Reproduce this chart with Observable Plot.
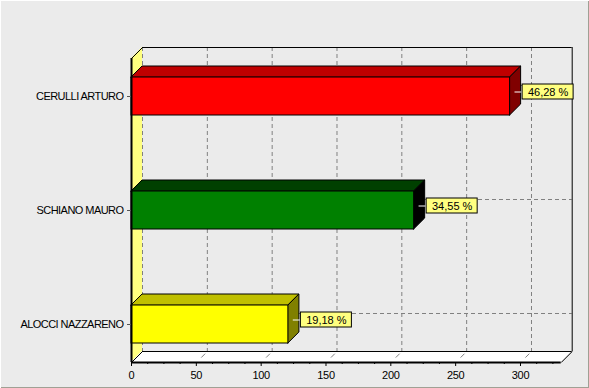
<!DOCTYPE html>
<html><head><meta charset="utf-8">
<script src="https://cdn.jsdelivr.net/npm/d3@7"></script>
<script src="https://cdn.jsdelivr.net/npm/@observablehq/plot@0.6"></script>
<style>
body{margin:0;background:#ebebeb;}
#chart svg{display:block;}
#chart g[aria-label="y-axis tick label"] text{letter-spacing:-0.55px;}
#chart g[aria-label="x-axis tick label"] text{letter-spacing:-0.3px;}
</style></head><body><div id="chart"></div>
<script>
// ---- data ----
const names = ["CERULLI ARTURO", "SCHIANO MAURO", "ALOCCI NAZZARENO"];
const votes = [292, 218, 121];
const frontColors = ["#ff0000", "#008000", "#ffff00"];
const topColors = ["#bf0000", "#004000", "#c0c000"];
const sideColors = ["#800000", "#000000", "#808000"];
const xTicks = [0, 50, 100, 150, 200, 250, 300];
const xMinorTicks = [12.5, 25, 37.5, 62.5, 75, 87.5, 112.5, 125, 137.5, 162.5, 175, 187.5, 212.5, 225, 237.5, 262.5, 275, 287.5, 312.5, 325];
const xMax = 331.4;

// ---- layout ----
const W = 589, H = 388, mL = 131, mR = 28.3, mT = 58, mB = 26;
const yMin = -1/3, yMax = 7/3;
const kx = (W - mL - mR) / xMax;
const ky = (H - mT - mB) / (yMax - yMin);
const depth = 11;
const dX = depth / kx, dY = depth / ky;
const half = 1/6;
const idx = names.map((_, i) => i);
const total = d3.sum(votes);
const pct = votes.map(v => (v / total * 100).toFixed(2).replace(".", ",") + " %");

const topRows = idx.flatMap(i => [
  {i, y: i - half, x1: 0, x2: votes[i]},
  {i, y: i - half - dY, x1: dX, x2: votes[i] + dX}
]);
const sideRows = idx.flatMap(i => [
  {i, x: votes[i], y1: i - half, y2: i + half},
  {i, x: votes[i] + dX, y1: i - half - dY, y2: i + half - dY}
]);
const leftWall = [{x: 0, y1: yMin, y2: yMax}, {x: dX, y1: yMin - dY, y2: yMax - dY}];
const floor = [{y: yMax, x1: 0, x2: xMax}, {y: yMax - dY, x1: dX, x2: xMax + dX}];
const labY = i => i - 4.5 / ky;
const boxX1 = i => votes[i] + dX + 1.5 / kx;
const grid = {stroke: "#808080", strokeDasharray: "4,3"};

const chart = Plot.plot({
  width: W, height: H,
  marginLeft: mL, marginRight: mR, marginTop: mT, marginBottom: mB,
  style: "background:#ebebeb;box-shadow:inset 1px 1px 0 #ffffff, inset -1px -1px 0 #a0a094;font-family:'Liberation Sans',Arial,sans-serif;font-size:11px;color:#000;",
  x: {domain: [0, xMax], label: null},
  y: {domain: [yMin, yMax], reverse: true, label: null},
  color: {type: "identity"},
  marks: [
    // back wall
    Plot.rect([0], {x1: () => dX, x2: () => xMax + dX, y1: () => yMin - dY, y2: () => yMax - dY, fill: "#ebebeb"}),
    // left wall & floor
    Plot.areaY(leftWall, {x: "x", y1: "y1", y2: "y2", fill: "#ffff80"}),
    Plot.areaX(floor, {y: "y", x1: "x1", x2: "x2", fill: "#ffffff"}),
    // gridlines on back wall
    Plot.ruleX(xTicks, {x: v => v + dX, y1: () => yMin - dY, y2: () => yMax - dY, ...grid}),
    Plot.ruleY(idx, {y: i => i - dY, x1: () => dX, x2: () => xMax + dX, ...grid}),
    // floor ticks
    Plot.link(xTicks.slice(1), {x1: v => v + dX * 0.8, y1: () => yMax - dY * 0.8, x2: v => v + dX * 0.45, y2: () => yMax - dY * 0.45, stroke: "#808080"}),
    // wall borders
    Plot.ruleY([yMin - dY], {x1: () => dX, x2: () => xMax + dX, stroke: "#000"}),
    Plot.ruleY([yMax - dY], {x1: () => dX, x2: () => xMax + dX, stroke: "#000"}),
    Plot.ruleX([xMax + dX], {y1: () => yMin - dY, y2: () => yMax - dY, stroke: "#000"}),
    Plot.link([0], {x1: () => 0, y1: () => yMin, x2: () => dX, y2: () => yMin - dY, stroke: "#000"}),
    Plot.link([0], {x1: () => 0, y1: () => yMax, x2: () => dX, y2: () => yMax - dY, stroke: "#000"}),
    Plot.link([0], {x1: () => xMax, y1: () => yMax, x2: () => xMax + dX, y2: () => yMax - dY, stroke: "#000"}),
    // bars
    Plot.areaX(topRows, {y: "y", x1: "x1", x2: "x2", z: "i", fill: d => topColors[d.i], stroke: "#000", strokeWidth: 1}),
    Plot.areaY(sideRows, {x: "x", y1: "y1", y2: "y2", z: "i", fill: d => sideColors[d.i], stroke: "#000", strokeWidth: 1}),
    Plot.rect(idx, {x1: () => 0, x2: i => votes[i], y1: i => i - half, y2: i => i + half, fill: i => frontColors[i], stroke: "#000"}),
    // front axes lines
    Plot.ruleX([0], {y1: () => yMin, y2: () => yMax, stroke: "#000", strokeWidth: 2}),
    Plot.ruleY([yMax], {x1: () => 0, x2: () => xMax, stroke: "#000", strokeWidth: 2}),
    // axes
    Plot.axisX({ticks: xTicks, tickSize: 4, tickPadding: 5, fontSize: 11, stroke: "#000", fill: "#000"}),
    Plot.axisX({ticks: xMinorTicks, tickSize: 2, tickFormat: () => "", stroke: "#000"}),
    Plot.axisY({ticks: idx, tickSize: 4, tickPadding: 4, fontSize: 11, tickFormat: i => names[i], stroke: "#555", fill: "#000"}),
    // value labels
    Plot.link(idx, {x1: i => votes[i] + dX * 0.4, x2: boxX1, y1: labY, y2: labY, stroke: "#ffffff"}),
    Plot.rect(idx, {x1: boxX1, x2: i => boxX1(i) + 51 / kx, y1: i => labY(i) - 7.5 / ky, y2: i => labY(i) + 7.5 / ky, fill: "#ffff80", stroke: "#000"}),
    Plot.text(idx, {x: i => boxX1(i) + 25.5 / kx, y: labY, text: i => pct[i], fontSize: 11, fill: "#000"})
  ]
});
document.getElementById("chart").appendChild(chart);
</script></body></html>
